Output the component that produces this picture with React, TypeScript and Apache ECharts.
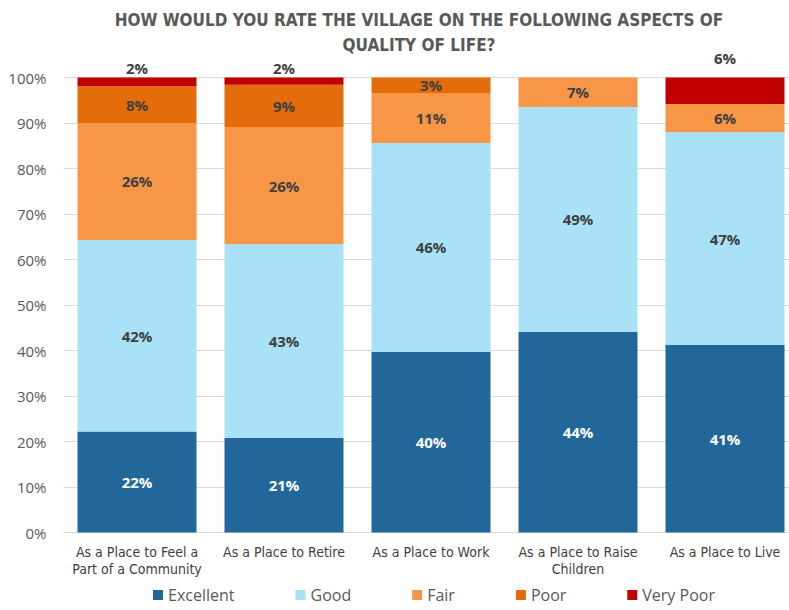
import React, { useEffect, useRef } from "react";
import * as echarts from "echarts";

const categories = [
  "As a Place to Feel a\nPart of a Community",
  "As a Place to Retire",
  "As a Place to Work",
  "As a Place to Raise\nChildren",
  "As a Place to Live",
];
const excellent = [22.2, 20.8, 39.7, 44.1, 41.2];
const good = [42.1, 42.6, 45.9, 49.4, 46.8];
const fair = [25.7, 25.7, 11.0, 6.5, 6.2];
const poor = [8.1, 9.3, 3.4, 0, 0];
const veryPoor = [1.9, 1.6, 0, 0, 5.8];
const yTicks = [0, 10, 20, 30, 40, 50, 60, 70, 80, 90, 100];

const seriesNames = ["Excellent", "Good", "Fair", "Poor", "Very Poor"];
const seriesColors = ["#22679A", "#A9E1F6", "#F79646", "#E46C0A", "#C00000"];
const labelColors = ["#FFFFFF", "#404040", "#404040", "#404040", "#404040"];

export default function App() {
  const ref = useRef<HTMLDivElement>(null);
  useEffect(() => {
    if (!ref.current) return;
    const chart = echarts.init(ref.current, undefined, { renderer: "svg" });
    const allData = [excellent, good, fair, poor, veryPoor];
    const vpDistance = [2, 2, 2, 2, 12];
    const series = allData.map((arr, si) => ({
      name: seriesNames[si],
      type: "bar",
      stack: "total",
      barWidth: 119,
      itemStyle: { color: seriesColors[si] },
      label: {
        show: true,
        position: "inside",
        color: labelColors[si],
        fontFamily: "'Open Sans', sans-serif",
        fontWeight: "bold",
        fontSize: 15,
        formatter: (p: any) => (p.value ? Math.round(p.value) + "%" : ""),
      },
      data: arr.map((v, i) => {
        if (!v) return null;
        if (si === 4) {
          return {
            value: v,
            label: { position: "top", distance: vpDistance[i] },
          };
        }
        return v;
      }),
    }));
    chart.setOption({
      animation: false,
      title: {
        text: "HOW WOULD YOU RATE THE VILLAGE ON THE FOLLOWING ASPECTS OF\nQUALITY OF LIFE?",
        left: 414,
        top: 2,
        textAlign: "center",
        textStyle: {
          fontFamily: "'Liberation Sans Narrow', 'DejaVu Sans Condensed', 'Roboto Condensed', sans-serif",
          fontWeight: "bold",
          fontSize: 17,
          lineHeight: 25,
          color: "#595959",
        },
      },
      legend: {
        left: 148,
        top: 582,
        itemWidth: 10,
        itemHeight: 10,
        itemGap: 61,
        icon: "rect",
        textStyle: {
          fontFamily: "'Open Sans', sans-serif",
          fontSize: 16,
          color: "#595959",
        },
        data: seriesNames,
      },
      grid: {
        left: 63.5,
        width: 735,
        top: 77.5,
        height: 455,
        containLabel: false,
        outerBoundsMode: "none",
      },
      xAxis: {
        type: "category",
        data: categories,
        axisLine: { show: true, lineStyle: { color: "#D9D9D9" } },
        axisTick: { show: false },
        axisLabel: {
          margin: 11,
          interval: 0,
          fontFamily: "'Liberation Sans Narrow', 'DejaVu Sans Condensed', 'Roboto Condensed', sans-serif",
          fontSize: 14,
          lineHeight: 17,
          color: "#404040",
        },
      },
      yAxis: {
        type: "value",
        min: yTicks[0],
        max: yTicks[yTicks.length - 1],
        interval: 10,
        axisLine: { show: false },
        axisTick: { show: false },
        splitLine: { lineStyle: { color: "#D9D9D9" } },
        axisLabel: {
          margin: 17,
          formatter: "{value}%",
          fontFamily: "'Open Sans', sans-serif",
          fontSize: 15,
          color: "#595959",
        },
      },
      series,
    });
    return () => chart.dispose();
  }, []);
  return <div ref={ref} style={{ width: 789, height: 610, position: "absolute", left: 0, top: 0 }} />;
}
